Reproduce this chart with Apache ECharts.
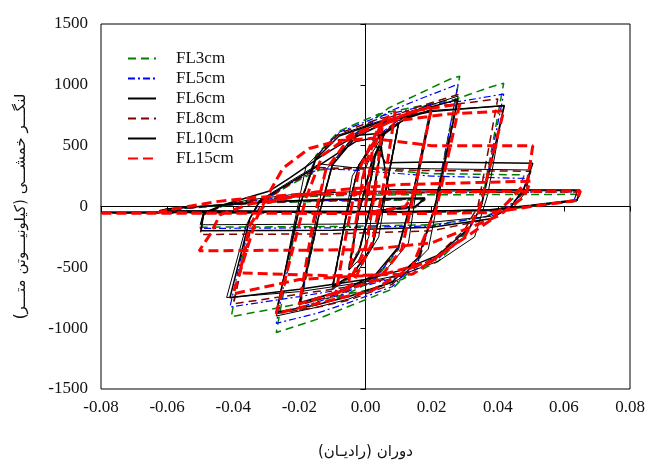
<!DOCTYPE html>
<html><head><meta charset="utf-8">
<script src="https://cdn.jsdelivr.net/npm/echarts@6/dist/echarts.min.js"></script>
<style>html,body{margin:0;padding:0;background:#fff}#c{width:648px;height:465px}</style>
</head><body><div id="c"></div>
<script>
const seriesNames = ['FL3cm','FL5cm','FL6cm','FL8cm','FL10cm','FL15cm'];
const xTicks = [-0.08,-0.06,-0.04,-0.02,0,0.02,0.04,0.06,0.08];
const yTicks = [-1500,-1000,-500,0,500,1000,1500];

const fl3 = [[0,0],[0.003,400],[0.005,500],[0.002,40],[-0.002,-360],[-0.005,-480],[-0.002,-40],[0.002,360],
[0.006,600],[0.01,680],[0.006,110],[0.002,-330],[-0.004,-570],[-0.01,-680],[-0.006,-100],[-0.002,330],[0.004,580],
[0.012,760],[0.02,850],[0.014,60],[0.01,-350],[0.003,-600],[-0.007,-740],[-0.02,-850],[-0.014,-60],[-0.01,350],[-0.003,600],[0.007,810],
[0.0255,1046],[0.0285,1071],[0.021,0],[0.016,-460],[0.008,-680],[-0.005,-820],[-0.015,-930],[-0.027,-1036],[-0.02,0],[-0.015,420],[-0.008,620],[0.004,760],[0.0275,884],[0.0376,980],
[0.0418,1014],[0.035,0],[0.031,-200],[0.022,-450],[0.011,-600],[0,-690],[-0.02,-800],[-0.0406,-906],[-0.035,-100],[-0.032,30],[-0.022,190],[-0.014,300],[-0.004,320],
[0.02,270],[0.048,260],[0.046,100],[0.042,0],[0.036,-90],[0.02,-150],[-0.01,-165],[-0.05,-170],[-0.049,-60],[-0.043,5],[-0.035,40],[-0.02,80],[0,95],
[0.064,100],[0.063,40],[0.05,0],[0.038,-40],[0.01,-50],[-0.062,-55],[-0.06,-30],[-0.045,5],[-0.03,30],[-0.01,45],[0.018,55],[0.015,-10],[0,-50],[-0.08,-55]];

const fl5 = [[0,0],[0.003,420],[0.005,520],[0.002,50],[-0.002,-370],[-0.005,-500],[-0.002,-50],[0.002,370],
[0.006,610],[0.01,690],[0.006,120],[0.002,-330],[-0.004,-570],[-0.01,-680],[-0.006,-100],[-0.002,340],[0.004,590],
[0.012,750],[0.02,840],[0.014,60],[0.01,-340],[0.003,-590],[-0.007,-720],[-0.02,-830],[-0.014,-60],[-0.01,350],[-0.003,600],[0.007,780],
[0.018,900],[0.028,1005],[0.021,0],[0.016,-450],[0.008,-660],[-0.005,-790],[-0.015,-880],[-0.027,-960],[-0.02,0],[-0.015,410],[-0.008,610],[0.004,740],[0.02,840],[0.03,870],
[0.0418,924],[0.035,0],[0.031,-190],[0.022,-430],[0.011,-570],[0,-650],[-0.02,-740],[-0.041,-826],[-0.035,-100],[-0.032,35],[-0.022,200],[-0.014,310],[-0.004,300],
[0.02,250],[0.049,230],[0.047,90],[0.043,0],[0.037,-80],[0.02,-160],[-0.01,-175],[-0.05,-180],[-0.049,-60],[-0.043,10],[-0.035,45],[-0.02,90],[0,110],
[0.064,120],[0.063,45],[0.05,5],[0.038,-35],[0.01,-48],[-0.062,-50],[-0.06,-28],[-0.045,8],[-0.03,35],[-0.01,50],[0.018,60],[0.015,-5],[0,-48],[-0.08,-52]];

const fl6 = [[0,0],[0.003,440],[0.005,540],[0.003,200],[0.001,-250],[-0.002,-440],[-0.005,-520],[-0.003,-200],[-0.001,250],[0.002,440],
[0.006,620],[0.01,690],[0.007,250],[0.004,-250],[-0.002,-520],[-0.01,-660],[-0.007,-250],[-0.004,250],[0.002,520],
[0.012,720],[0.02,800],[0.016,250],[0.013,-300],[0.005,-560],[-0.007,-690],[-0.02,-800],[-0.016,-250],[-0.012,300],[-0.004,560],[0.007,710],
[0.016,800],[0.028,908],[0.023,200],[0.019,-350],[0.01,-600],[-0.005,-760],[-0.015,-830],[-0.027,-900],[-0.022,-200],[-0.018,330],[-0.009,580],[0.004,700],[0.02,790],
[0.0418,826],[0.037,100],[0.033,-250],[0.022,-450],[0.011,-560],[0,-620],[-0.02,-700],[-0.042,-748],[-0.036,-150],[-0.032,50],[-0.022,220],[-0.014,350],[-0.004,320],
[0.02,310],[0.05,300],[0.0485,120],[0.045,0],[0.038,-80],[0.02,-130],[-0.01,-145],[-0.05,-150],[-0.049,-50],[-0.043,14],[-0.035,55],[-0.02,105],[0,125],
[0.065,130],[0.064,45],[0.05,5],[0.038,-28],[0.01,-40],[-0.062,-35],[-0.06,-18],[-0.045,12],[-0.03,40],[-0.01,58],[0.018,68],[0.015,0],[0,-40],[-0.08,-45]];

const fl8 = [[0,0],[0.003,430],[0.005,530],[0.002,50],[-0.002,-370],[-0.005,-510],[-0.002,-50],[0.002,370],
[0.006,610],[0.01,690],[0.006,120],[0.002,-330],[-0.004,-560],[-0.01,-670],[-0.006,-100],[-0.002,340],[0.004,580],
[0.012,740],[0.02,820],[0.014,60],[0.01,-340],[0.003,-580],[-0.007,-710],[-0.02,-810],[-0.014,-60],[-0.01,350],[-0.003,590],[0.007,730],
[0.016,820],[0.028,920],[0.021,0],[0.016,-440],[0.008,-640],[-0.005,-770],[-0.015,-830],[-0.027,-880],[-0.02,0],[-0.015,400],[-0.008,600],[0.004,720],[0.02,820],[0.03,850],
[0.04,884],[0.034,0],[0.03,-190],[0.021,-420],[0.011,-560],[0,-640],[-0.02,-720],[-0.04,-800],[-0.034,-100],[-0.031,40],[-0.022,200],[-0.014,320],[-0.004,310],
[0.02,295],[0.05,290],[0.048,120],[0.044,0],[0.038,-100],[0.02,-200],[-0.01,-225],[-0.05,-230],[-0.049,-70],[-0.043,8],[-0.035,45],[-0.02,90],[0,110],
[0.064,120],[0.063,45],[0.05,5],[0.038,-35],[0.01,-48],[-0.062,-50],[-0.06,-28],[-0.045,8],[-0.03,35],[-0.01,50],[0.018,60],[0.015,-5],[0,-48],[-0.08,-52]];

const fl10 = [[0,0],[0.003,430],[0.005,530],[0.002,50],[-0.002,-380],[-0.005,-520],[-0.002,-50],[0.002,380],
[0.006,610],[0.01,680],[0.006,120],[0.002,-330],[-0.004,-560],[-0.01,-660],[-0.006,-100],[-0.002,340],[0.004,570],
[0.012,720],[0.02,790],[0.014,60],[0.01,-330],[0.003,-560],[-0.007,-690],[-0.02,-790],[-0.014,-60],[-0.01,340],[-0.003,570],[0.007,700],
[0.016,790],[0.028,880],[0.021,0],[0.016,-420],[0.008,-620],[-0.005,-740],[-0.015,-810],[-0.027,-870],[-0.02,0],[-0.015,390],[-0.008,580],[0.004,690],[0.02,780],
[0.042,830],[0.035,0],[0.0315,-173],[0.022,-400],[0.011,-523],[0,-600],[-0.02,-680],[-0.041,-750],[-0.035,-100],[-0.032,45],[-0.022,208],[-0.014,339],[-0.003,534],[0.002,560],
[0.006,360],[0.02,365],[0.0506,355],[0.048,150],[0.044,0],[0.038,-100],[0.02,-170],[-0.01,-195],[-0.0497,-200],[-0.049,-60],[-0.043,14],[-0.029,128],[-0.023,233],[-0.013,420],[-0.003,583],[0.004,600],
[0.007,140],[0.03,138],[0.0648,135],[0.064,55],[0.05,10],[0.0376,-27],[0.01,-45],[-0.0624,-35],[-0.06,-20],[-0.045,10],[-0.03,40],[-0.01,60],[0.018,70],[0.015,0],[0,-45],[-0.08,-50]];

const fl15 = [[0,0],[0.002,450],[0.005,650],[0.003,150],[0,-350],[-0.005,-620],[-0.003,-150],[0,350],
[0.005,700],[0.009,780],[0.006,250],[0.002,-300],[-0.004,-640],[-0.009,-720],[-0.006,-250],[-0.002,300],[0.004,650],
[0.012,760],[0.02,820],[0.015,150],[0.011,-350],[0.004,-600],[-0.008,-700],[-0.02,-800],[-0.016,-150],[-0.012,300],[-0.005,560],[0.006,700],
[0.016,790],[0.0285,843],[0.0215,-10],[0.014,-500],[0.002,-690],[-0.015,-800],[-0.027,-880],[-0.018,70],[-0.013,420],[-0.004,600],[0.008,700],[0.025,760],
[0.0418,785],[0.0345,-10],[0.03,-250],[0.02,-450],[0.005,-560],[-0.02,-600],[-0.04,-718],[-0.033,-100],[-0.03,70],[-0.025,314],[-0.017,477],[-0.008,542],[0.002,560],[0.02,500],
[0.0506,500],[0.049,208],[0.0376,-118],[0.025,-350],[0.0143,-555],[-0.01,-570],[-0.038,-545],[-0.035,-150],[-0.03,30],[-0.015,120],[0.01,180],[0.05,208],[0.048,80],[0.04,-80],[0.02,-300],[0,-355],
[-0.0503,-364],[-0.047,-230],[-0.044,-68],[-0.035,20],[-0.02,90],[0,120],
[0.065,127],[0.064,50],[0.05,0],[0.038,-50],[0.01,-60],[-0.063,-51],[-0.06,-30],[-0.045,40],[-0.035,70],[-0.02,100],[0.015,110],[0.012,0],[0,-55],[-0.08,-55]];

const seriesData = [fl3, fl5, fl6, fl8, fl10, fl15];
const styles = [
  {color:'#008000', width:1.5, type:[8,5]},
  {color:'#0000ff', width:1.2, type:[7,3,2,3]},
  {color:'#000000', width:1, type:'solid'},
  {color:'#800000', width:1.5, type:[8,5]},
  {color:'#000000', width:1.5, type:'solid'},
  {color:'#ff0000', width:3, type:[10,5]}
];

const chart = echarts.init(document.getElementById('c'), null, {renderer:'canvas'});
const font = '"Liberation Serif","Times New Roman",serif';
chart.setOption({
  animation:false,
  backgroundColor:'#fff',
  grid:{left:101, right:18, top:24, bottom:72, show:true, borderColor:'#000', borderWidth:1, backgroundColor:'transparent'},
  legend:{
    orient:'vertical', left:122, top:45, itemWidth:28, itemHeight:16, itemGap:3,
    itemStyle:{opacity:0},
    data: seriesNames,
    textStyle:{fontFamily:font, fontSize:17, color:'#111', padding:[0,0,0,15]}
  },
  xAxis:{
    type:'value', min:-0.08, max:0.08, interval:0.02,
    axisLine:{lineStyle:{color:'#000', width:1}},
    axisTick:{inside:false, length:5, lineStyle:{color:'#000'}},
    splitLine:{show:false},
    axisLabel:{fontFamily:font, fontSize:17, color:'#111', margin:10, formatter:v=>v.toFixed(2)},
    name:'دوران (رادیـان)', nameLocation:'middle', nameGap:56,
    nameTextStyle:{fontFamily:'"DejaVu Sans"', fontSize:15, color:'#111'}
  },
  yAxis:{
    type:'value', min:-1500, max:1500, interval:500,
    axisLine:{lineStyle:{color:'#000', width:1}},
    axisTick:{inside:false, length:5, lineStyle:{color:'#000'}},
    splitLine:{show:false},
    axisLabel:{fontFamily:font, fontSize:17, color:'#111', margin:13, formatter:v=>String(v)},
    name:'لنگـــر خمشـــی (کیلونیـــوتن متـــر)', nameLocation:'middle', nameGap:72, nameRotate:90,
    nameTextStyle:{fontFamily:'"DejaVu Sans"', fontSize:15, color:'#111'}
  },
  series: seriesNames.map((n,i)=>({
    name:n, type:'line', data:seriesData[i], symbol:'none', showSymbol:false,
    lineStyle:{color:styles[i].color, width:styles[i].width, type:styles[i].type},
    itemStyle:{color:styles[i].color},
    z: 2+i, clip:true
  }))
});
</script></body></html>
